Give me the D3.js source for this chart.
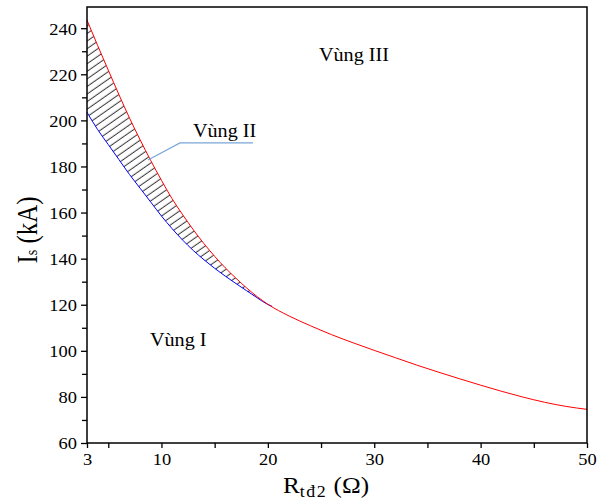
<!DOCTYPE html>
<html>
<head>
<meta charset="utf-8">
<script src="https://cdn.jsdelivr.net/npm/d3@7"></script>
<style>
  html, body { margin: 0; padding: 0; background: #fff; }
  svg { display: block; }
  text { font-family: "Liberation Serif", "Times New Roman", serif; fill: #000; }
</style>
</head>
<body>
<svg id="chart" width="605" height="504"></svg>
<script>
// ---- data ----
const xMajorTicks = [3, 10, 20, 30, 40, 50];
const xMinorTicks = [5, 15, 25, 35, 45];
const yMajorTicks = [60, 80, 100, 120, 140, 160, 180, 200, 220, 240];
const yMinorTicks = [70, 90, 110, 130, 150, 170, 190, 210, 230];

const redR  = [3, 4, 5, 6, 7, 8, 9, 10, 11, 12, 13, 14, 15, 16, 17, 18, 19, 20, 22, 24, 26, 28, 30, 32, 34, 36, 38, 40, 42, 44, 46, 48, 50];
const redIs = [243.5, 232.5, 221.8, 211.2, 201, 191.5, 182.5, 174, 166, 159, 152.5, 146.5, 141, 136, 131.5, 127.3, 123.5, 120.2, 115.1, 110.9, 107, 103.5, 100.2, 97, 93.8, 90.8, 87.9, 85.1, 82.4, 79.9, 77.7, 75.9, 74.6];

const blueR  = [3, 4, 5, 6, 7, 8, 9, 10, 11, 12, 13, 14, 15, 16, 17, 18, 19, 20, 20.4];
const blueIs = [203.5, 196, 189.5, 183, 176.5, 170.5, 164.5, 158.5, 153, 148, 143.5, 139.5, 135.8, 132.4, 129.2, 126.1, 123, 120.1, 119.3];

const regionLabels = ["Vùng III", "Vùng II", "Vùng I"];
const regionR  = [24.8, 12.96, 8.92];
const regionIs = [225.7, 192.8, 102.1];

const pointerR  = [8.73, 11.74, 18.6];
const pointerIs = [182.8, 190.2, 190.2];

// ---- layout ----
const W = 605, H = 504;
const margin = { left: 87, right: 18, top: 7, bottom: 61 };
const svg = d3.select("#chart");

const x = d3.scaleLinear().domain([3, 50]).range([margin.left, W - margin.right]);
const y = d3.scaleLinear().domain([60, 249.2]).range([H - margin.bottom, margin.top]);

const red = redR.map((r, i) => ({ r, v: redIs[i] }));
const blue = blueR.map((r, i) => ({ r, v: blueIs[i] }));

const line = d3.line().x(d => x(d.r)).y(d => y(d.v)).curve(d3.curveMonotoneX);

// hatch pattern
const defs = svg.append("defs");
const pat = defs.append("pattern")
  .attr("id", "hatch")
  .attr("patternUnits", "userSpaceOnUse")
  .attr("width", 12).attr("height", 6.2)
  .attr("patternTransform", "rotate(-35)");
pat.append("line")
  .attr("x1", 0).attr("x2", 12).attr("y1", 3).attr("y2", 3)
  .attr("stroke", "#333").attr("stroke-width", 1);

// region between curves (red top, blue bottom): clip red-area by blue
const clipTop = defs.append("clipPath").attr("id", "belowRed");
clipTop.append("path").datum(red)
  .attr("d", d3.area().x(d => x(d.r)).y0(H - margin.bottom).y1(d => y(d.v)).curve(d3.curveMonotoneX));
svg.append("g").attr("clip-path", "url(#belowRed)")
  .append("path")
  .datum(blue)
  .attr("d", d3.area().x(d => x(d.r)).y0(margin.top).y1(d => y(d.v)).curve(d3.curveMonotoneX))
  .attr("fill", "url(#hatch)")
  .attr("stroke", "none");

// curves
svg.append("path").datum(blue).attr("d", line)
  .attr("fill", "none").attr("stroke", "#0000ff").attr("stroke-width", 1);
svg.append("path").datum(red).attr("d", line)
  .attr("fill", "none").attr("stroke", "#ff0000").attr("stroke-width", 1);

// frame
svg.append("rect")
  .attr("x", margin.left).attr("y", margin.top)
  .attr("width", W - margin.left - margin.right)
  .attr("height", H - margin.top - margin.bottom)
  .attr("fill", "none").attr("stroke", "#000").attr("stroke-width", 1.5);

// axes
const xAxis = d3.axisBottom(x).tickValues(xMajorTicks).tickSize(5).tickFormat(d3.format("d"));
const xAxisMinor = d3.axisBottom(x).tickValues(xMinorTicks).tickSize(5).tickFormat("");
const yAxis = d3.axisLeft(y).tickValues(yMajorTicks).tickSize(6).tickFormat(d3.format("d"));
const yAxisMinor = d3.axisLeft(y).tickValues(yMinorTicks).tickSize(5).tickFormat("");

function styleAxis(g) {
  g.select(".domain").remove();
  g.selectAll(".tick line").attr("stroke", "#000").attr("stroke-width", 1.3);
}
const gx = svg.append("g").attr("transform", `translate(0,${H - margin.bottom})`).call(xAxis).call(styleAxis);
svg.append("g").attr("transform", `translate(0,${H - margin.bottom})`).call(xAxisMinor).call(styleAxis);
const gy = svg.append("g").attr("transform", `translate(${margin.left},0)`).call(yAxis).call(styleAxis);
svg.append("g").attr("transform", `translate(${margin.left},0)`).call(yAxisMinor).call(styleAxis);

gx.selectAll(".tick text")
  .attr("font-family", "Liberation Serif, Times New Roman, serif")
  .attr("font-size", 16.5).attr("fill", "#000")
  .attr("y", 0).attr("dy", 0)
  .attr("transform", "translate(0,22) scale(1.12,1)");
gy.selectAll(".tick text")
  .attr("font-family", "Liberation Serif, Times New Roman, serif")
  .attr("font-size", 16.5).attr("fill", "#000")
  .attr("x", 0).attr("dy", "0.36em")
  .attr("transform", "translate(-10,0) scale(1.12,1)");

// region labels
regionLabels.forEach((t, i) => {
  svg.append("text")
    .attr("transform", `translate(${x(regionR[i])},${y(regionIs[i])}) scale(1.12,1)`)
    .attr("font-size", 18)
    .text(t);
});

// pointer line
svg.append("path")
  .datum(pointerR.map((r, i) => ({ r, v: pointerIs[i] })))
  .attr("d", d3.line().x(d => x(d.r)).y(d => y(d.v)))
  .attr("fill", "none").attr("stroke", "#7aa6d8").attr("stroke-width", 1.2);

// x axis title
const xt = svg.append("text")
  .attr("transform", `translate(326,493) scale(1.05,1)`)
  .attr("text-anchor", "middle")
  .attr("font-size", 24);
xt.append("tspan").text("R");
xt.append("tspan").attr("font-size", 17).attr("dy", 4).attr("letter-spacing", 1.5).text("tđ2");
xt.append("tspan").attr("dy", -4).text(" (Ω)");

// y axis title
const yt = svg.append("text")
  .attr("transform", `translate(37,230) rotate(-90) scale(1,1.15)`)
  .attr("text-anchor", "middle")
  .attr("font-size", 25);
yt.append("tspan").text("I");
yt.append("tspan").attr("font-size", 14).attr("dy", 0).text("s");
yt.append("tspan").text(" (kA)");
</script>
</body>
</html>
